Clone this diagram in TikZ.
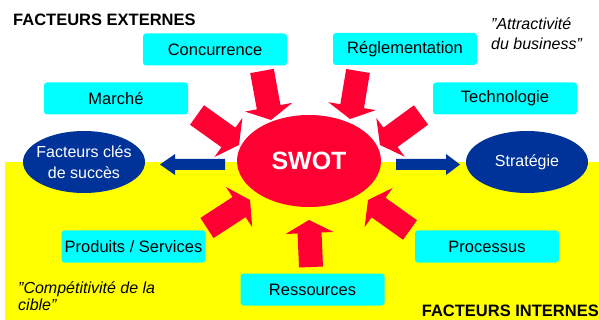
\documentclass[tikz,border=0pt]{standalone}
\usepackage{fontspec}
\setmainfont{Liberation Sans}[Ligatures=ResetAll]
\usetikzlibrary{calc,shapes.geometric}
\definecolor{cyanbox}{HTML}{00FFFF}
\definecolor{yel}{HTML}{FFFF00}
\definecolor{redc}{HTML}{FF0033}
\definecolor{bluec}{HTML}{003399}
% block arrow: tail, tip, half shaft width, half head width, head length, colour
\newcommand\blockarr[6]{%
  \coordinate (tmph) at ($(#2)!#5!(#1)$);
  \fill[#6] ($(#1)!#3!90:(#2)$) -- ($(tmph)!#3!90:(#2)$) -- ($(tmph)!#4!90:(#2)$) -- (#2)
    -- ($(tmph)!#4!-90:(#2)$) -- ($(tmph)!#3!-90:(#2)$) -- ($(#1)!#3!-90:(#2)$) -- cycle;}
\begin{document}
\begin{tikzpicture}[x=1pt,y=-1pt,
  box/.style={fill=cyanbox, rounded corners=3pt, minimum width=144pt, minimum height=32pt,
    inner sep=0pt, font=\fontsize{16.5}{19}\selectfont},
  oval/.style={ellipse, fill=bluec, text=white, inner xsep=-20pt, inner ysep=-10pt, align=center,
    minimum width=122pt, minimum height=62pt, font=\fontsize{16}{21}\selectfont},
  title/.style={inner sep=0pt, font=\bfseries\fontsize{16.5}{19}\selectfont},
  quote/.style={inner sep=0pt, anchor=base west, font=\itshape\fontsize{16}{19}\selectfont}]
\useasboundingbox (0,0) rectangle (599,320);
\fill[yel] (5,162) rectangle (599,320);

% titles and quotes
\node[title, anchor=base west] (ext) at (13,26) {FACTEURS EXTERNES};
\node[title, anchor=base east] (int) at (599,316) {FACTEURS INTERNES};
\node[quote] (q1a) at (491,30) {"Attractivité};
\node[quote] (q1b) at (491,50) {du business"};
\node[quote] (q2a) at (18,293) {"Compétitivité de la};
\node[quote] (q2b) at (18,310) {cible"};

% boxes
\node[box] (conc) at (215,49.5) {Concurrence};
\node[box] (regl) at (405,49) {Réglementation};
\node[box] (marc) at (116,98.5) {Marché};
\node[box] (tech) at (505,98.5) {Technologie};
\node[box] (prod) at (133.5,246.5) {Produits / Services};
\node[box] (proc) at (487,246.5) {Processus};
\node[box] (ress) at (312.5,289.5) {Ressources};

% ellipses
\node[ellipse, fill=redc, text=white, inner sep=0pt, minimum width=144pt, minimum height=92pt,
  font=\bfseries\fontsize{25}{28}\selectfont] (swot) at (309,161) {\raisebox{-4pt}{SWOT}};
\node[oval] (fcs) at (84,162) {Facteurs clés\\de succès};
\node[oval] (strat) at (527,162) {Stratégie};

% red arrows
\coordinate (a1t) at (262,71);  \coordinate (a1h) at (271,120);
\coordinate (a2t) at (358,71);  \coordinate (a2h) at (350,119);
\coordinate (a3t) at (197,115); \coordinate (a3h) at (239,145);
\coordinate (a4t) at (421,115); \coordinate (a4h) at (380,145);
\coordinate (a5t) at (207,228); \coordinate (a5h) at (250,200);
\coordinate (a6t) at (410,230); \coordinate (a6h) at (368,200);
\coordinate (a7t) at (311,267); \coordinate (a7h) at (309,220);
\blockarr{a1t}{a1h}{12pt}{24pt}{13pt}{redc}
\blockarr{a2t}{a2h}{12pt}{24pt}{13pt}{redc}
\blockarr{a3t}{a3h}{12pt}{24pt}{13pt}{redc}
\blockarr{a4t}{a4h}{12pt}{24pt}{13pt}{redc}
\blockarr{a5t}{a5h}{12pt}{24pt}{13pt}{redc}
\blockarr{a6t}{a6h}{12pt}{24pt}{13pt}{redc}
\blockarr{a7t}{a7h}{12pt}{24pt}{13pt}{redc}

% blue arrows
\coordinate (b1t) at (225,164.5); \coordinate (b1h) at (160,164.5);
\coordinate (b2t) at (396,164.5); \coordinate (b2h) at (460,164.5);
\blockarr{b1t}{b1h}{5.5pt}{10.5pt}{15pt}{bluec}
\blockarr{b2t}{b2h}{5.5pt}{10.5pt}{14pt}{bluec}
\end{tikzpicture}
\end{document}
